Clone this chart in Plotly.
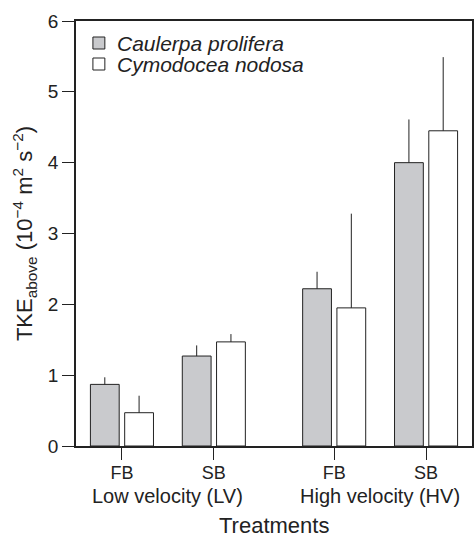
import plotly.graph_objects as go

# Treatment positions (flow type within velocity level), with a wider gap between velocity groups
positions = [0, 1, 2.31, 3.31]
tick_labels = ["FB", "SB", "FB", "SB"]
group_labels = ["Low velocity (LV)", "High velocity (HV)"]
group_centers = [0.5, 2.81]

species = ["Caulerpa prolifera", "Cymodocea nodosa"]
fills = ["#c9cacd", "#ffffff"]
caulerpa_mean = [0.87, 1.27, 2.22, 4.00]
caulerpa_err = [0.10, 0.15, 0.24, 0.61]
cymodocea_mean = [0.47, 1.47, 1.95, 4.45]
cymodocea_err = [0.24, 0.11, 1.33, 1.04]

FONT = "Liberation Sans, Arial, sans-serif"
INK = "#222222"
W, H = 476, 537
ML, MR, MT, MB = 76, 2, 21, 91
PW, PH = W - ML - MR, H - MT - MB


def px_x(px):
    """Pixel column -> paper x."""
    return (px - ML) / PW


def px_y(py):
    """Pixel row (from top) -> paper y."""
    return (H - MB - py) / PH


fig = go.Figure()
for name, mean, err, fill in [
    (species[0], caulerpa_mean, caulerpa_err, fills[0]),
    (species[1], cymodocea_mean, cymodocea_err, fills[1]),
]:
    fig.add_trace(go.Bar(
        x=positions, y=mean, name=name, showlegend=False,
        marker=dict(color=fill, line=dict(color=INK, width=1)),
        error_y=dict(type="data", symmetric=False, array=err,
                     arrayminus=[0] * len(err), width=0,
                     color=INK, thickness=1),
    ))

fig.update_layout(
    width=W, height=H,
    margin=dict(l=ML, r=MR, t=MT, b=MB),
    plot_bgcolor="white", paper_bgcolor="white",
    barmode="group", bargap=0.254, bargroupgap=0.16,
    font=dict(family=FONT, size=20, color=INK),
    showlegend=False,
)
fig.update_xaxes(
    range=[-0.5, 3.81], tickmode="array", tickvals=positions, ticktext=tick_labels,
    ticks="outside", ticklen=12, tickwidth=1, tickcolor=INK, ticklabelstandoff=-2,
    showline=True, linecolor=INK, linewidth=1.5, mirror=True,
    showgrid=False, zeroline=False, tickfont=dict(size=18),
)
fig.update_yaxes(
    range=[0, 6], dtick=1, ticks="outside", ticklen=12, tickwidth=1, tickcolor=INK,
    showline=True, linecolor=INK, linewidth=1.5, mirror=True,
    showgrid=False, zeroline=False, tickfont=dict(size=19),
    title=dict(text="TKE<sub>above</sub> (10<sup>−4</sup> m<sup>2</sup> s<sup>−2</sup>)",
               font=dict(size=22), standoff=9),
)

# Legend: swatch squares and italic species names
for i, (name, fill) in enumerate(zip(species, fills)):
    top = 37 + 21 * i
    fig.add_shape(type="rect", xref="paper", yref="paper",
                  x0=px_x(93), x1=px_x(105), y0=px_y(top + 12), y1=px_y(top),
                  fillcolor=fill, line=dict(color=INK, width=1))
    fig.add_annotation(x=px_x(115), y=px_y(top + 6), xref="paper", yref="paper",
                       xanchor="left", yanchor="middle", text=name, showarrow=False,
                       font=dict(size=21, style="italic"))

for label, cx in zip(group_labels, group_centers):
    fig.add_annotation(x=cx, xref="x", y=0, yref="paper", yanchor="middle",
                       yshift=-50, text=label, showarrow=False, font=dict(size=20))
fig.add_annotation(x=0.5, xref="paper", y=0, yref="paper", yanchor="middle",
                   yshift=-79, text="Treatments", showarrow=False, font=dict(size=22))

fig.write_html("out.html")
